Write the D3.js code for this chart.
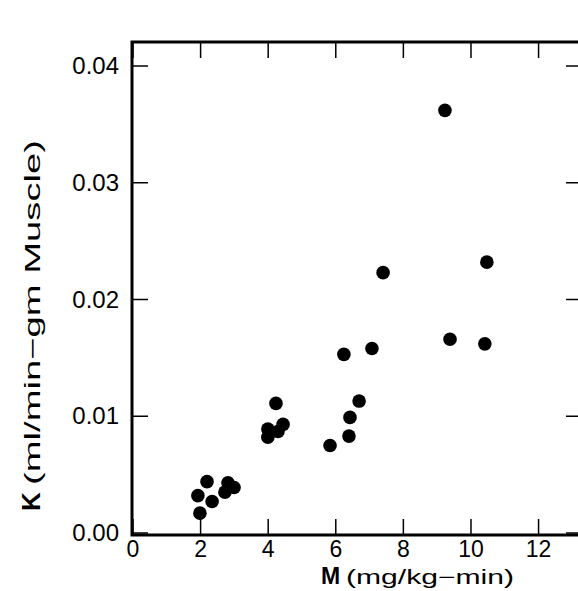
<!DOCTYPE html><html><head><script src="https://cdn.jsdelivr.net/npm/d3@7"></script>
<style>body{margin:0;background:#fff}</style></head><body><svg id="c" width="578" height="591"></svg>
<script>
const mValues=[1.98,1.92,2.19,2.34,2.81,2.72,2.99,3.99,3.99,4.23,4.29,4.44,5.83,6.39,6.42,6.69,6.24,7.07,7.40,9.23,9.38,10.47,10.41];
const kValues=[0.0017,0.0032,0.0044,0.0027,0.0043,0.0035,0.0039,0.0082,0.0089,0.0111,0.0087,0.0093,0.0075,0.0083,0.0099,0.0113,0.0153,0.0158,0.0223,0.0362,0.0166,0.0232,0.0162];
const xTicks=[0,2,4,6,8,10,12];
const yTicks=[0,0.01,0.02,0.03,0.04];
const svg=d3.select("#c");
const L=132,R=580,T=42,B=535;
const F="Liberation Sans, Arial";
const x=d3.scaleLinear().domain([0,13.3]).range([133,582.5]);
const y=d3.scaleLinear().domain([0,0.04]).range([533,66]);
const g=svg.append("g");
g.append("rect").attr("x",L).attr("y",T).attr("width",R-L).attr("height",B-T).attr("fill","none").attr("stroke","#000").attr("stroke-width",3);
xTicks.forEach(t=>{
 g.append("line").attr("x1",x(t)).attr("x2",x(t)).attr("y1",B).attr("y2",B-16).attr("stroke","#000").attr("stroke-width",1.5);
 g.append("line").attr("x1",x(t)).attr("x2",x(t)).attr("y1",T).attr("y2",T+16).attr("stroke","#000").attr("stroke-width",1.5);
 g.append("text").attr("x",x(t)).attr("y",B+22).attr("text-anchor","middle").attr("font-family",F).attr("font-size",23).text(t);
});
yTicks.forEach(t=>{
 g.append("line").attr("x1",L).attr("x2",L+16).attr("y1",y(t)).attr("y2",y(t)).attr("stroke","#000").attr("stroke-width",1.5);
 g.append("line").attr("x1",R).attr("x2",R-14).attr("y1",y(t)).attr("y2",y(t)).attr("stroke","#000").attr("stroke-width",1.5);
 g.append("text").attr("x",L-13).attr("y",y(t)+8).attr("text-anchor","end").attr("font-family",F).attr("font-size",24).text(d3.format(".2f")(t));
});
g.selectAll("circle").data(mValues).join("circle").attr("cx",d=>x(d)).attr("cy",(d,i)=>y(kValues[i])).attr("r",6.8).attr("fill","#000");
g.append("text").attr("x",321).attr("y",584).attr("font-family",F).attr("font-weight","bold").attr("font-size",23).text("M");
g.append("text").attr("x",346).attr("y",584).attr("font-family",F).attr("font-size",20).attr("textLength",168).attr("lengthAdjust","spacingAndGlyphs").text("(mg/kg\u2212min)");
g.append("text").attr("transform","translate(40,511) rotate(-90)").attr("font-family",F).attr("font-weight","bold").attr("font-size",26).text("K");
g.append("text").attr("transform","translate(40,485) rotate(-90)").attr("font-family",F).attr("font-size",22).attr("textLength",345).attr("lengthAdjust","spacingAndGlyphs").text("(ml/min\u2212gm Muscle)");
</script></body></html>
